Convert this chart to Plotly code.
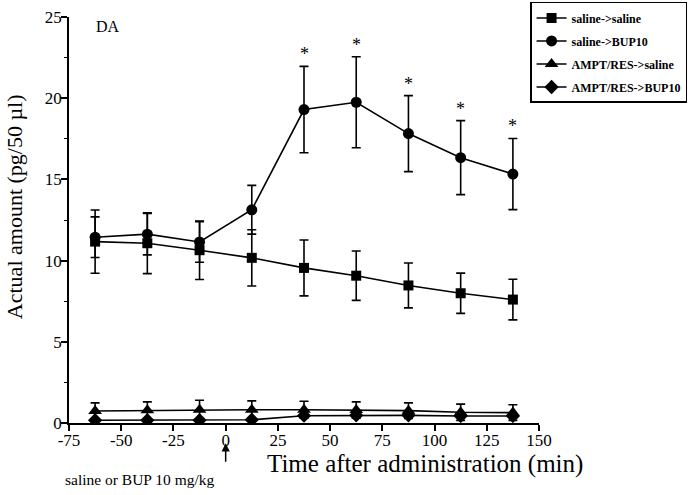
import plotly.graph_objects as go

# ---- data ----
time_min = [-62.5, -37.5, -12.5, 12.5, 37.5, 62.5, 87.5, 112.5, 137.5]

sal_sal = [11.17, 11.07, 10.64, 10.17, 9.55, 9.07, 8.47, 7.99, 7.60]
sal_sal_se = [1.95, 1.87, 1.80, 1.73, 1.72, 1.52, 1.38, 1.24, 1.25]

sal_bup = [11.44, 11.63, 11.15, 13.13, 19.30, 19.75, 17.82, 16.34, 15.33]
sal_bup_se = [1.25, 1.28, 1.25, 1.50, 2.66, 2.80, 2.34, 2.28, 2.19]

ampt_sal = [0.74, 0.78, 0.82, 0.82, 0.82, 0.80, 0.76, 0.66, 0.64]
ampt_sal_se = [0.50, 0.52, 0.58, 0.54, 0.52, 0.50, 0.48, 0.50, 0.48]

ampt_bup = [0.17, 0.17, 0.17, 0.20, 0.45, 0.47, 0.47, 0.43, 0.43]
ampt_bup_se = [0.05, 0.05, 0.05, 0.05, 0.06, 0.06, 0.06, 0.06, 0.06]

star_flags = [0, 0, 0, 0, 1, 1, 1, 1, 1]

series_names = ["saline->saline", "saline->BUP10", "AMPT/RES->saline", "AMPT/RES->BUP10"]
x_ticks = [-75, -50, -25, 0, 25, 50, 75, 100, 125, 150]
x_tick_labels = ["-75", "-50", "-25", "0", "25", "50", "75", "100", "125", "150"]
y_ticks = [0, 5, 10, 15, 20, 25]
y_tick_labels = ["0", "5", "10", "15", "20", "25"]

FONT = "Liberation Serif"

fig = go.Figure()

specs = [
    (sal_sal, sal_sal_se, "square", 10),
    (sal_bup, sal_bup_se, "circle", 11),
    (ampt_sal, ampt_sal_se, "triangle-up", 12),
    (ampt_bup, ampt_bup_se, "diamond", 11),
]
for i, (vals, se, sym, size) in enumerate(specs):
    fig.add_trace(go.Scatter(
        x=time_min, y=vals, name=series_names[i], legendgroup=f"g{i}",
        mode="lines+markers",
        line=dict(color="black", width=1.6),
        marker=dict(symbol=sym, size=size, color="black"),
        error_y=dict(type="data", symmetric=False, array=se, arrayminus=se,
                     color="black", thickness=1.6, width=4.5),
    ))

# significance stars
for xv, yv, se, f in zip(time_min, sal_bup, sal_bup_se, star_flags):
    if f:
        fig.add_annotation(x=xv, y=yv + se, yshift=0, text="*", showarrow=False,
                           xanchor="center", yanchor="bottom",
                           font=dict(family=FONT, size=18, color="black"))

# DA label
fig.add_annotation(x=-63, y=24.4, text="DA", showarrow=False, xanchor="left",
                   yanchor="middle", font=dict(family=FONT, size=16, color="black"))

# arrow at time 0
fig.add_annotation(x=0, y=-0.05, xref="x", yref="paper", text="", showarrow=True,
                   ax=0, ay=20, arrowhead=2, arrowsize=1.1, arrowwidth=1.5,
                   arrowcolor="black")
fig.add_annotation(x=-41, y=-0.14, xref="x", yref="paper",
                   text="saline or BUP 10 mg/kg", showarrow=False,
                   xanchor="center", yanchor="middle",
                   font=dict(family=FONT, size=15.5, color="black"))

# x-axis title
fig.add_annotation(x=(425 - 69) / 470, y=-0.1, xref="paper", yref="paper",
                   text="Time after administration (min)", showarrow=False,
                   xanchor="center", yanchor="middle",
                   font=dict(family=FONT, size=25, color="black"))
# y-axis title
fig.add_annotation(x=(14 - 69) / 470, y=(422.7 - 207) / 405.7, xref="paper", yref="paper",
                   text="Actual amount (pg/50 µl)", showarrow=False, textangle=-90,
                   xanchor="center", yanchor="middle",
                   font=dict(family=FONT, size=22, color="black"))

fig.update_layout(
    width=696, height=495,
    margin=dict(l=69, r=157, t=17, b=72, autoexpand=False),
    paper_bgcolor="white", plot_bgcolor="white",
    font=dict(family=FONT, color="black"),
    showlegend=True,
    legend=dict(x=0.981, y=1.037, xanchor="left", yanchor="top",
                bordercolor="black", borderwidth=1.5, bgcolor="white",
                font=dict(family=FONT, size=12, color="black", weight="bold"),
                tracegroupgap=4, traceorder="grouped"),
    xaxis=dict(range=[-75, 150], tickvals=x_ticks, ticktext=x_tick_labels,
               ticks="outside", ticklen=6, ticklabelstandoff=-5,
               tickwidth=1.5, tickcolor="black", showline=True, linecolor="black",
               linewidth=1.5, showgrid=False, zeroline=False, automargin=False,
               tickfont=dict(family=FONT, size=17, color="black")),
    yaxis=dict(range=[0, 25], tickvals=y_ticks, ticktext=y_tick_labels,
               ticks="outside", ticklen=6, ticklabelstandoff=-4,
               tickwidth=1.5, tickcolor="black", showline=True, linecolor="black",
               linewidth=1.5, showgrid=False, zeroline=False, automargin=False,
               minor=dict(dtick=2.5, ticks="outside", ticklen=3, tickcolor="black",
                          tickwidth=1, showgrid=False),
               tickfont=dict(family=FONT, size=17, color="black")),
)

fig.write_html("out.html", config={"displayModeBar": False},
               post_script="document.body.style.margin='0';document.body.style.overflow='hidden';")
